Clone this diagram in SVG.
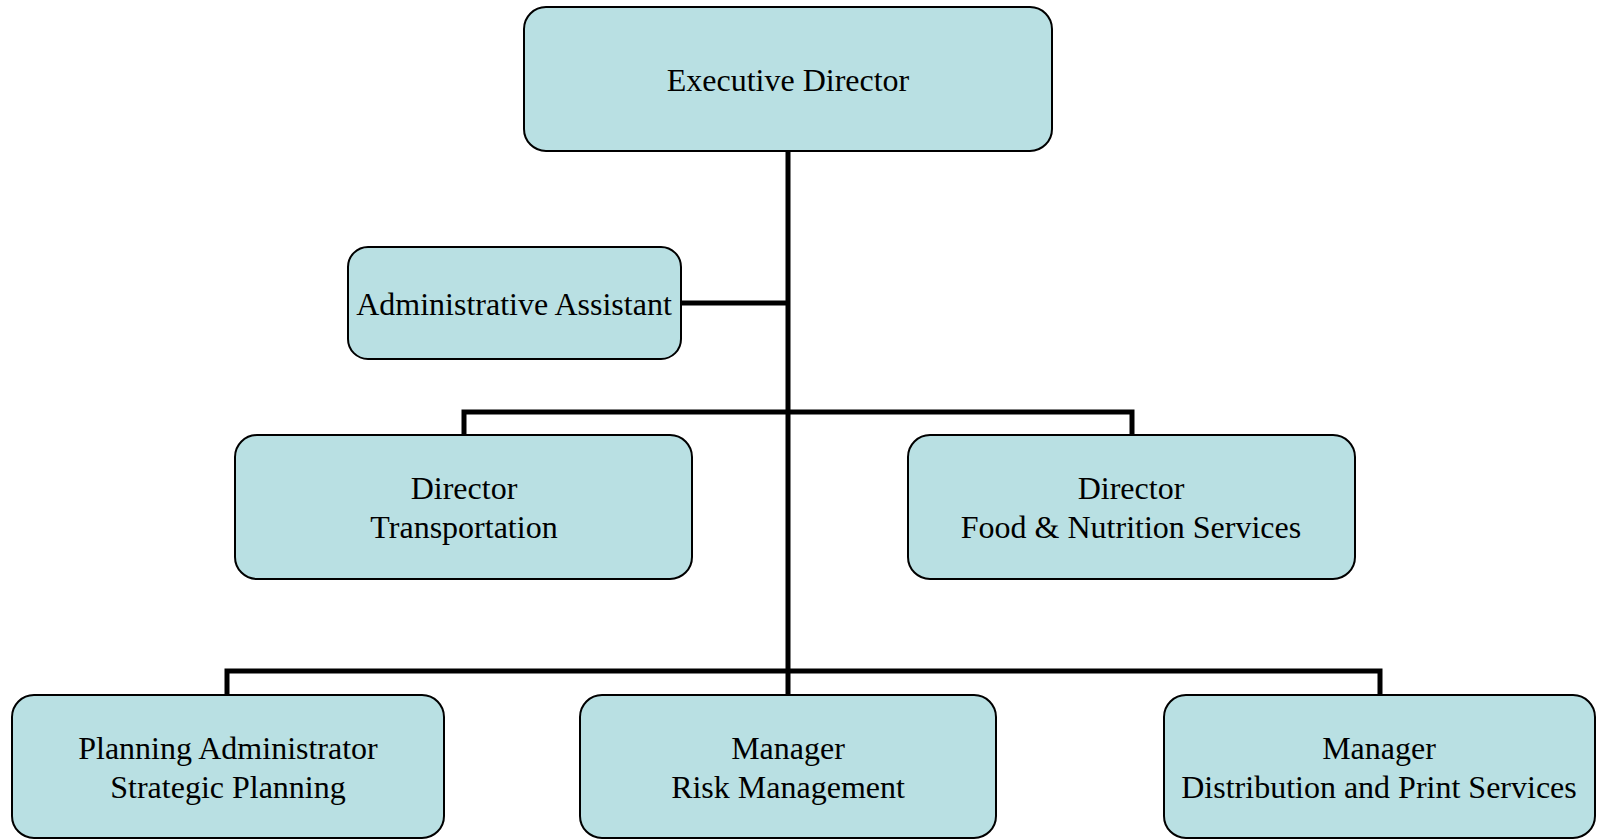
<svg xmlns="http://www.w3.org/2000/svg" width="1598" height="839" viewBox="0 0 1598 839">
<style>
.box{fill:#B9E0E3;stroke:#000;stroke-width:2}
.t{font-family:"Liberation Serif","Times New Roman",serif;font-size:32px;fill:#000;text-anchor:middle}
.c{fill:none;stroke:#000;stroke-width:5;stroke-linejoin:miter;stroke-linecap:butt}
</style>
<rect width="1598" height="839" fill="#fff"/>
<g id="connectors">
<path class="c" d="M788 151 V695"/>
<path class="c" d="M681 303 H788"/>
<path class="c" d="M464 435 V412 H1132 V435"/>
<path class="c" d="M227 695 V671 H1380 V695"/>
</g>
<g id="exec"><rect class="box" x="524" y="7" width="528" height="144" rx="22"/><text class="t" x="788" y="91">Executive Director</text></g>
<g id="admin"><rect class="box" x="348" y="247" width="333" height="112" rx="20"/><text class="t" x="514" y="315">Administrative Assistant</text></g>
<g id="transport"><rect class="box" x="235" y="435" width="457" height="144" rx="22"/><text class="t" x="464" y="499">Director</text><text class="t" x="464" y="538">Transportation</text></g>
<g id="food"><rect class="box" x="908" y="435" width="447" height="144" rx="22"/><text class="t" x="1131" y="499">Director</text><text class="t" x="1131" y="538">Food &amp; Nutrition Services</text></g>
<g id="planning"><rect class="box" x="12" y="695" width="432" height="143" rx="22"/><text class="t" x="228" y="759">Planning Administrator</text><text class="t" x="228" y="798">Strategic Planning</text></g>
<g id="risk"><rect class="box" x="580" y="695" width="416" height="143" rx="22"/><text class="t" x="788" y="759">Manager</text><text class="t" x="788" y="798">Risk Management</text></g>
<g id="dist"><rect class="box" x="1164" y="695" width="431" height="143" rx="22"/><text class="t" x="1379" y="759">Manager</text><text class="t" x="1379" y="798">Distribution and Print Services</text></g>
</svg>
